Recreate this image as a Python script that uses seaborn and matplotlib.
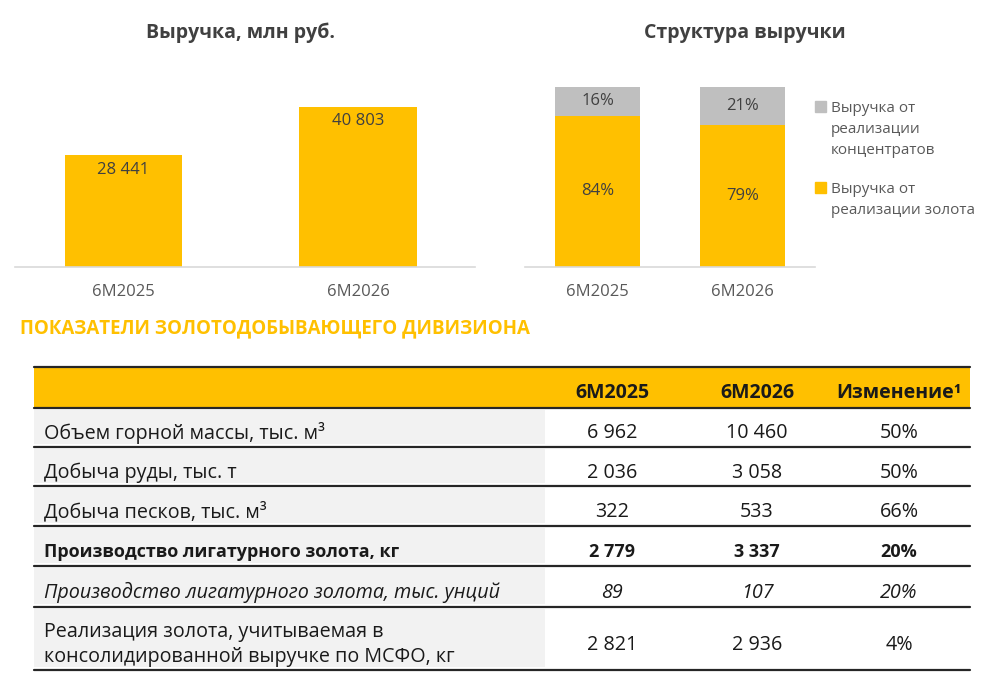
import matplotlib
matplotlib.use('Agg')
import matplotlib.pyplot as plt
import seaborn as sns
import pandas as pd
from matplotlib.patches import Rectangle

#-----------------------------------------
# data
#-----------------------------------------
periods = ['6M2025', '6M2026']
revenue = [28441, 40803]
revenue_labels = ['28 441', '40 803']
share_gold = [84, 79]
share_conc = [16, 21]
legend_labels = ['Выручка от\nреализации\nконцентратов', 'Выручка от\nреализации золота']

table_header = ['6M2025', '6M2026', 'Изменение¹']
row_names = ['Объем горной массы, тыс. м³',
             'Добыча руды, тыс. т',
             'Добыча песков, тыс. м³',
             'Производство лигатурного золота, кг',
             'Производство лигатурного золота, тыс. унций',
             'Реализация золота, учитываемая в\nконсолидированной выручке по МСФО, кг']
col_2025 = ['6 962', '2 036', '322', '2 779', '89', '2 821']
col_2026 = ['10 460', '3 058', '533', '3 337', '107', '2 936']
col_change = ['50%', '50%', '66%', '20%', '20%', '4%']
row_weight = ['normal', 'normal', 'normal', 'bold', 'normal', 'normal']
row_style = ['normal', 'normal', 'normal', 'normal', 'italic', 'normal']

YELLOW = '#FFC000'
GREY = '#BFBFBF'
DARK = '#404040'
TICK = '#595959'

sns.set_theme(style='white')
plt.rcParams['font.family'] = ['Open Sans', 'DejaVu Sans']

fig = plt.figure(figsize=(10, 6.81), dpi=100)
H = 681.0

#-----------------------------------------
# left chart - revenue
#-----------------------------------------
ax1 = fig.add_axes([0.015, 1 - 267 / H, 0.46, 200 / H])
df_rev = pd.DataFrame({'period': periods, 'revenue': revenue})
sns.barplot(data=df_rev, x='period', y='revenue', color=YELLOW, saturation=1,
            width=0.5, linewidth=0, ax=ax1)
ax1.set_xlim(-0.463, 1.499)
ax1.set_ylim(0, 51000)
for i, (v, lab) in enumerate(zip(revenue, revenue_labels)):
    ax1.text(i, v - 3600, lab, ha='center', va='center', fontsize=12, color=DARK)

#-----------------------------------------
# right chart - revenue structure (stacked)
#-----------------------------------------
ax2 = fig.add_axes([0.525, 1 - 267 / H, 0.29, 200 / H])
totals = [g + c for g, c in zip(share_gold, share_conc)]
sns.barplot(x=periods, y=totals, color=GREY, saturation=1, width=0.58, linewidth=0, ax=ax2)
sns.barplot(x=periods, y=share_gold, color=YELLOW, saturation=1, width=0.58, linewidth=0, ax=ax2)
ax2.set_xlim(-0.5, 1.5)
ax2.set_ylim(0, 111.1)
for i in range(len(periods)):
    ax2.text(i, share_gold[i] / 2, f'{share_gold[i]}%', ha='center', va='center',
             fontsize=12, color=DARK)
    ax2.text(i, share_gold[i] + share_conc[i] / 2, f'{share_conc[i]}%', ha='center',
             va='center', fontsize=12, color=DARK)

for ax in (ax1, ax2):
    for s in ['top', 'right', 'left']:
        ax.spines[s].set_visible(False)
    ax.spines['bottom'].set_color('#D9D9D9')
    ax.spines['bottom'].set_linewidth(1.2)
    ax.set_xlabel('')
    ax.set_ylabel('')
    ax.set_yticks([])
    ax.tick_params(axis='x', length=0, pad=12, labelsize=12, labelcolor=TICK)
    ax.set_facecolor('none')

fig.text(0.240, 1 - 33 / H, 'Выручка, млн руб.', ha='center', va='center',
         fontsize=14, fontweight='bold', color=DARK)
fig.text(0.745, 1 - 33 / H, 'Структура выручки', ha='center', va='center',
         fontsize=14, fontweight='bold', color=DARK)

# legend
for lab, col, ytop in zip(legend_labels, [GREY, YELLOW], [107, 188]):
    fig.add_artist(Rectangle((815 / 1000, 1 - (ytop + 5) / H), 11 / 1000, 11 / H,
                             transform=fig.transFigure, color=col))
    fig.text(831 / 1000, 1 - (ytop - 6) / H, lab, ha='left', va='top',
             fontsize=11, color=TICK, linespacing=1.55)

#-----------------------------------------
# table
#-----------------------------------------
fig.text(0.020, 1 - 328 / H, 'ПОКАЗАТЕЛИ ЗОЛОТОДОБЫВАЮЩЕГО ДИВИЗИОНА', ha='left',
         va='center', fontsize=13.5, fontweight='bold', color=YELLOW)

axt = fig.add_axes([0, 0, 1, 1])
axt.set_xlim(0, 1000)
axt.set_ylim(H, 0)
axt.axis('off')

x_left, x_right, x_grey = 34, 970, 545
col_x = [612, 757, 899]
axt.add_patch(Rectangle((x_left, 367), x_right - x_left, 40, color=YELLOW, lw=0))
axt.plot([x_left, x_right], [367, 367], color='#262626', lw=1.6)
axt.plot([x_left, x_right], [407.5, 407.5], color='#262626', lw=1.6)
for x, h in zip(col_x, table_header):
    axt.text(x, 393, h, ha='center', va='center', fontsize=14, fontweight='bold',
             color='#1a1a1a')

row_top = [408, 447, 486, 526, 566, 607]
row_bot = [447, 486, 526, 566, 607, 670]
for i in range(len(row_names)):
    t, b = row_top[i], row_bot[i]
    axt.add_patch(Rectangle((x_left, t + 2), x_grey - x_left, b - t - 5,
                            color='#F2F2F2', lw=0))
    axt.plot([x_left, x_right], [b, b], color='#262626', lw=1.6)
    yc = (t + b) / 2 + 6
    size = 13.0 if row_weight[i] == 'bold' else 14.2
    kw = dict(fontsize=size, fontweight=row_weight[i], fontstyle=row_style[i],
              color='#1a1a1a', va='center')
    axt.text(44, yc, row_names[i], ha='left', linespacing=1.35, **kw)
    for x, val in zip(col_x, [col_2025[i], col_2026[i], col_change[i]]):
        axt.text(x, yc, val, ha='center', **kw)

fig.savefig('out.png', dpi=100, facecolor='white')
